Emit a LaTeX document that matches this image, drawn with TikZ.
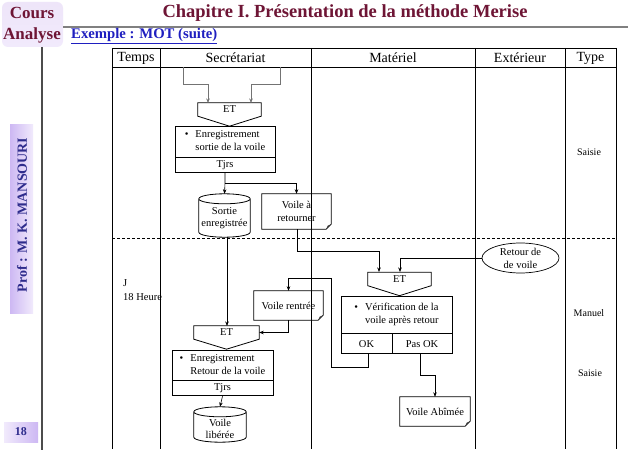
\documentclass[tikz,border=0pt]{standalone}
\usepackage{fontspec}
\setmainfont{Liberation Serif}
\usetikzlibrary{arrows.meta,calc,shapes.geometric}
\definecolor{titlered}{HTML}{6E1535}
\definecolor{exblue}{HTML}{1F1FC0}
\definecolor{profblue}{HTML}{2E2C8C}
\definecolor{lavA}{HTML}{CDB8F3}
\definecolor{lavB}{HTML}{F1EAFC}
\definecolor{lavC}{HTML}{EEE5F9}
\newcommand\docout[1]{%
  \draw[boxline] (#1.north west) -- (#1.north east) -- ($(#1.south east)+(0,5pt)$) -- ($(#1.south east)+(-5pt,0)$) -- (#1.south west) -- cycle;
  \fill[black!80] ($(#1.south east)+(0,5pt)$) -- ($(#1.south east)+(-5pt,0)$) -- ($(#1.south east)+(-3.5pt,3.5pt)$) -- cycle;}
\newcommand\cylout[1]{%
  \draw[boxline] let \p1=(#1.north west), \p2=(#1.south east), \n1={(\x2-\x1)/2} in
    (\x1,\y1-5pt) -- (\x1,\y2+5pt) arc[start angle=180,end angle=360,x radius=\n1,y radius=5pt]
    -- (\x2,\y1-5pt) arc[start angle=0,end angle=360,x radius=\n1,y radius=5pt];}
\newcommand\etout[1]{%
  \draw[boxline] (#1.north west) -- (#1.north east) -- (#1.south east) -- ($(#1.south)+(0,-10pt)$) -- (#1.south west) -- cycle;}
\begin{document}
\begin{tikzpicture}[x=1pt,y=-1pt,
  every node/.style={inner sep=0pt, font=\fontsize{10.5}{13}\selectfont},
  boxline/.style={line width=0.8pt},
  tbl/.style={line width=0.9pt},
  conn/.style={line width=0.6pt, -{Stealth[length=4.5pt,width=3.5pt]}},
  startconn/.style={conn, draw=black!55},
  hdr/.style={font=\fontsize{14}{16}\selectfont},
  procbox/.style={draw, line width=0.8pt, align=left},
  etbox/.style={minimum width=63pt, minimum height=13pt},
  docbox/.style={align=center},
  cyltext/.style={align=center, font=\fontsize{10.5}{12.5}\selectfont},
  small/.style={font=\fontsize{10}{12}\selectfont}
]
\useasboundingbox (0,0) rectangle (638,452);
\fill[white] (0,0) rectangle (638,452);

% ---- slide frame ----
\shade[rounded corners=6pt, top color=lavC, bottom color=lavB] (2,2) rectangle (63,47);
\node[font=\bfseries\fontsize{17}{19}\selectfont, text=titlered] (cours) at (32,13) {Cours};
\node[font=\bfseries\fontsize{17}{19}\selectfont, text=titlered] (analyse) at (32,35) {Analyse};
\node[font=\bfseries\fontsize{18.5}{21}\selectfont, text=titlered] (title) at (345,13) {Chapitre I. Présentation de la méthode Merise};
\draw[black!50, line width=2pt] (63,27) -- (628,27);
\node[anchor=west, font=\bfseries\fontsize{14.7}{17}\selectfont, text=exblue] (ex) at (71,36) {\underline{Exemple : MOT (suite)}};
\draw[black!70, line width=1.3pt] (42,47) -- (42,450);
\shade[left color=lavA, right color=lavB] (10,125) rectangle (33,313);
\node[rotate=90, font=\bfseries\fontsize{14}{16}\selectfont, text=profblue] (prof) at (22,215) {Prof : M. K. MANSOURI};
\shade[left color=lavB, right color=lavA] (4,422) rectangle (38,442);
\node[font=\bfseries\fontsize{12}{14}\selectfont, text=profblue] (page) at (21,432) {18};

% ---- table ----
\draw[tbl] (112,48) -- (616,48);
\draw[tbl] (112,67) -- (616,67);
\foreach \xx in {112,160,311,475,565,616} \draw[tbl] (\xx,48) -- (\xx,449);
\draw[line width=0.7pt, dash pattern=on 3pt off 2pt] (112,238) -- (616,238);
\node[hdr] (hT) at (136,58) {Temps};
\node[hdr] (hS) at (235.5,58) {Secrétariat};
\node[hdr] (hM) at (393,58) {Matériel};
\node[hdr] (hE) at (520,58) {Extérieur};
\node[hdr] (hY) at (590.5,58) {Type};

% ---- time / type ----
\node[anchor=west] (tj) at (123,283) {J};
\node[anchor=west] (th) at (123,297) {18 Heure};
\node[small] (ty1) at (589,152) {Saisie};
\node[small] (ty2) at (589,313) {Manuel};
\node[small] (ty3) at (590,373) {Saisie};

% ---- first part ----
\coordinate (sA) at (183,67);
\coordinate (sB) at (280,67);
\node[etbox] (et1) at (229.5,109.5) {ET};
\etout{et1}
\node[procbox, minimum width=100pt, minimum height=31pt] (p1) at (225,141.5)
  {\begin{tabular}{@{}l@{\hspace{7pt}}l@{}}\textbullet & Enregistrement\\ & sortie de la voile\end{tabular}};
\node[draw, line width=0.8pt, minimum width=100pt, minimum height=15pt, anchor=north] (p1b) at (p1.south) {Tjrs};
\node[minimum width=51pt, minimum height=43pt] (se) at (224.5,215.5) {};
\cylout{se}
\node[cyltext] (set) at (224.5,218) {Sortie\\enregistrée};
\node[docbox, minimum width=69pt, minimum height=35pt] (va) at (296.5,211.5) {Voile à\\retourner};
\docout{va}

\draw[startconn] (sA) -- (183,84) -| (208,103);
\draw[startconn] (sB) -- (280,84) -| (251,103);
\draw[conn] (p1b.south) -- (225,183) -- (se.north);
\draw[conn] (225,183) -| (va.north);

% ---- second part ----
\node[ellipse, draw, line width=0.7pt, minimum width=77pt, minimum height=30pt, align=center] (rv) at (520.5,258) {Retour de\\de voile};
\node[etbox] (et2) at (399.5,279) {ET};
\etout{et2}
\node[procbox, minimum width=111pt, minimum height=37pt] (p2) at (396.5,314.5)
  {\begin{tabular}{@{}l@{\hspace{7pt}}l@{}}\textbullet & Vérification de la\\ & voile après retour\end{tabular}};
\node[draw, line width=0.8pt, minimum width=51pt, minimum height=20pt, anchor=north west] (ok) at (p2.south west) {OK};
\node[draw, line width=0.8pt, minimum width=60pt, minimum height=20pt, anchor=north east] (pok) at (p2.south east) {Pas OK};
\node[docbox, minimum width=69pt, minimum height=29pt] (vre) at (288.5,305.5) {Voile rentrée};
\docout{vre}
\node[docbox, minimum width=70pt, minimum height=29pt] (vab) at (435,411.5) {Voile Abîmée};
\docout{vab}
\node[etbox, minimum width=65pt] (et3) at (226.5,332.5) {ET};
\etout{et3}
\node[procbox, minimum width=101pt, minimum height=30pt] (p3) at (222.5,365)
  {\begin{tabular}{@{}l@{\hspace{7pt}}l@{}}\textbullet & Enregistrement\\ & Retour de la voile\end{tabular}};
\node[draw, line width=0.8pt, minimum width=101pt, minimum height=15pt, anchor=north] (p3b) at (p3.south) {Tjrs};
\node[minimum width=52pt, minimum height=35pt] (vl) at (220,424.5) {};
\cylout{vl}
\node[cyltext] (vlt) at (220,429) {Voile\\libérée};

\draw[conn] (va.south -| 297,0) -- (297,251) -| (379,272);
\draw[conn] (rv.west) -| (400,272);
\draw[conn] (ok.south -| 368,0) -- (368,367) -- (331,367) -- (331,278) -| (vre.north);
\draw[conn] (vre.south) |- (et3.east);
\draw[conn] (se.south -| 227,0) -- (227,326);
\draw[conn] (p3b.south) -- (vl.north);
\draw[conn] (pok.south -| 420,0) -- (420,375) -| (vab.north);
\end{tikzpicture}
\end{document}
